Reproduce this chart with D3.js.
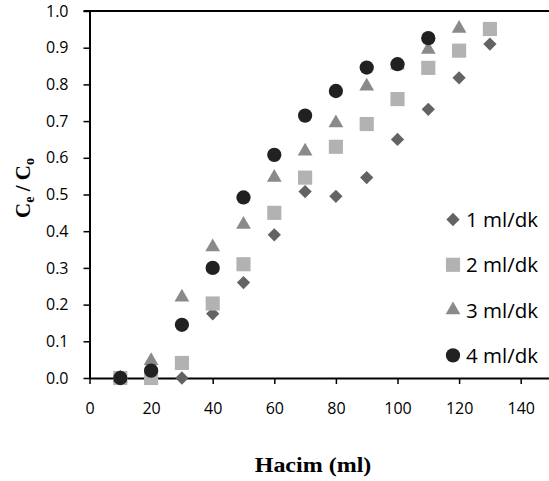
<!DOCTYPE html>
<html>
<head>
<meta charset="utf-8">
<script src="https://cdn.jsdelivr.net/npm/d3@7"></script>
<style>
    body { margin: 0; background: #ffffff; }
    #chart { width: 549px; height: 481px; }
</style>
</head>
<body>
<div id="chart"></div>
<script>
// Volume values (ml) on the x axis
const volume = [10, 20, 30, 40, 50, 60, 70, 80, 90, 100, 110, 120, 130];

// Ce / Co values, one array per flow rate
const flow1 = [0.0, 0.0, 0.0, 0.175, 0.26, 0.39, 0.508, 0.495, 0.546, 0.65, 0.732, 0.818, 0.91];
const flow2 = [0.0, 0.0, 0.041, 0.203, 0.31, 0.45, 0.546, 0.63, 0.692, 0.76, 0.845, 0.892, 0.951];
const flow3 = [0.0, 0.047, 0.22, 0.357, 0.418, 0.546, 0.618, 0.695, 0.795, 0.853, 0.895, 0.952];
const flow4 = [0.0, 0.02, 0.145, 0.3, 0.492, 0.608, 0.715, 0.782, 0.846, 0.855, 0.926];

const seriesNames = ['1 ml/dk', '2 ml/dk', '3 ml/dk', '4 ml/dk'];
const xTicks = [0, 20, 40, 60, 80, 100, 120, 140];
const yTicks = [0, 0.1, 0.2, 0.3, 0.4, 0.5, 0.6, 0.7, 0.8, 0.9, 1.0];

// each series only runs as far as it has readings
var series = [
    { name: seriesNames[0], ys: flow1, shape: 'diamond', color: '#636363' },
    { name: seriesNames[1], ys: flow2, shape: 'square', color: '#b2b2b2' },
    { name: seriesNames[2], ys: flow3, shape: 'triangle', color: '#8a8a8a' },
    { name: seriesNames[3], ys: flow4, shape: 'circle', color: '#212121' }
];

var width = 549, height = 481;
var plot = { left: 89.5, top: 11, bottom: 378, right: 551.5 };

var svg = d3.select('#chart')
    .append('svg')
    .attr('width', width)
    .attr('height', height);

var x = d3.scaleLinear().domain([0, 150]).range([plot.left, plot.right]);
var y = d3.scaleLinear().domain([0, 1]).range([plot.bottom, plot.top]);

// marker shapes, roughly the Excel defaults
function markerPath(shape) {
    if (shape === 'diamond') return d3.symbol().type(d3.symbolSquare).size(88)();
    if (shape === 'square') return d3.symbol().type(d3.symbolSquare).size(200)();
    if (shape === 'triangle') return d3.symbol().type(d3.symbolTriangle).size(94)();
    return d3.symbol().type(d3.symbolCircle).size(160)();
}
function markerRotate(shape) {
    return shape === 'diamond' ? ' rotate(45)' : '';
}

// top border of the plot area
svg.append('line')
    .attr('x1', plot.left - 6).attr('x2', width)
    .attr('y1', plot.top).attr('y2', plot.top)
    .style('stroke', '#000').style('stroke-width', 2);

// y axis
var yAxis = svg.append('g')
    .attr('transform', 'translate(' + plot.left + ',0)')
    .call(d3.axisLeft(y).tickValues(yTicks).tickFormat(d3.format('.1f')).tickSize(6).tickSizeOuter(0));

// x axis
var xAxis = svg.append('g')
    .attr('transform', 'translate(0,' + plot.bottom + ')')
    .call(d3.axisBottom(x).tickValues(xTicks).tickSize(6).tickSizeOuter(0));

[xAxis, yAxis].forEach(function(ax) {
    ax.select('.domain').style('stroke', '#000').style('stroke-width', 2);
    ax.selectAll('.tick line').style('stroke', '#000').style('stroke-width', 1.5);
    ax.selectAll('.tick text')
        .style('font-family', 'Open Sans, sans-serif')
        .style('font-size', '16px')
        .style('fill', '#000');
});
yAxis.selectAll('.tick text').attr('x', -21);
xAxis.selectAll('.tick text').attr('y', 25);

// the markers, each series on top of the one before
series.forEach(function(s) {
    svg.append('g').selectAll('path')
        .data(s.ys.map(function(v, i) { return { x: volume[i], y: v }; }))
        .enter().append('path')
        .attr('d', markerPath(s.shape))
        .attr('transform', function(d) { return 'translate(' + x(d.x) + ',' + y(d.y) + ')' + markerRotate(s.shape); })
        .style('fill', s.color);
});

// legend on the right, same marker sizes as the plot
var legend = svg.append('g').attr('transform', 'translate(453,219.5)');
series.forEach(function(s, i) {
    var item = legend.append('g').attr('transform', 'translate(0,' + (i * 45.3) + ')');
    item.append('path')
        .attr('d', markerPath(s.shape))
        .attr('transform', s.shape === 'diamond' ? 'rotate(45)' : null)
        .style('fill', s.color);
    item.append('text')
        .attr('x', 13)
        .attr('y', 7.5)
        .text(s.name)
        .style('font-family', 'Open Sans, sans-serif')
        .style('font-size', '20.5px')
        .style('fill', '#000');
});

// axis titles
svg.append('text')
    .attr('transform', 'translate(313,472) scale(1.2,1)')
    .attr('text-anchor', 'middle')
    .text('Hacim (ml)')
    .style('font-family', 'Liberation Serif, Times New Roman, serif')
    .style('font-weight', 'bold')
    .style('font-size', '20px');

var yTitle = svg.append('text')
    .attr('transform', 'translate(30,188) rotate(-90)')
    .attr('text-anchor', 'middle')
    .style('font-family', 'Liberation Serif, Times New Roman, serif')
    .style('font-weight', 'bold')
    .style('font-size', '21px');
yTitle.append('tspan').text('C');
yTitle.append('tspan').text('e').attr('dy', 4).style('font-size', '14px');
yTitle.append('tspan').text(' / C').attr('dy', -4);
yTitle.append('tspan').text('o').attr('dy', 4).style('font-size', '14px');
</script>
</body>
</html>
